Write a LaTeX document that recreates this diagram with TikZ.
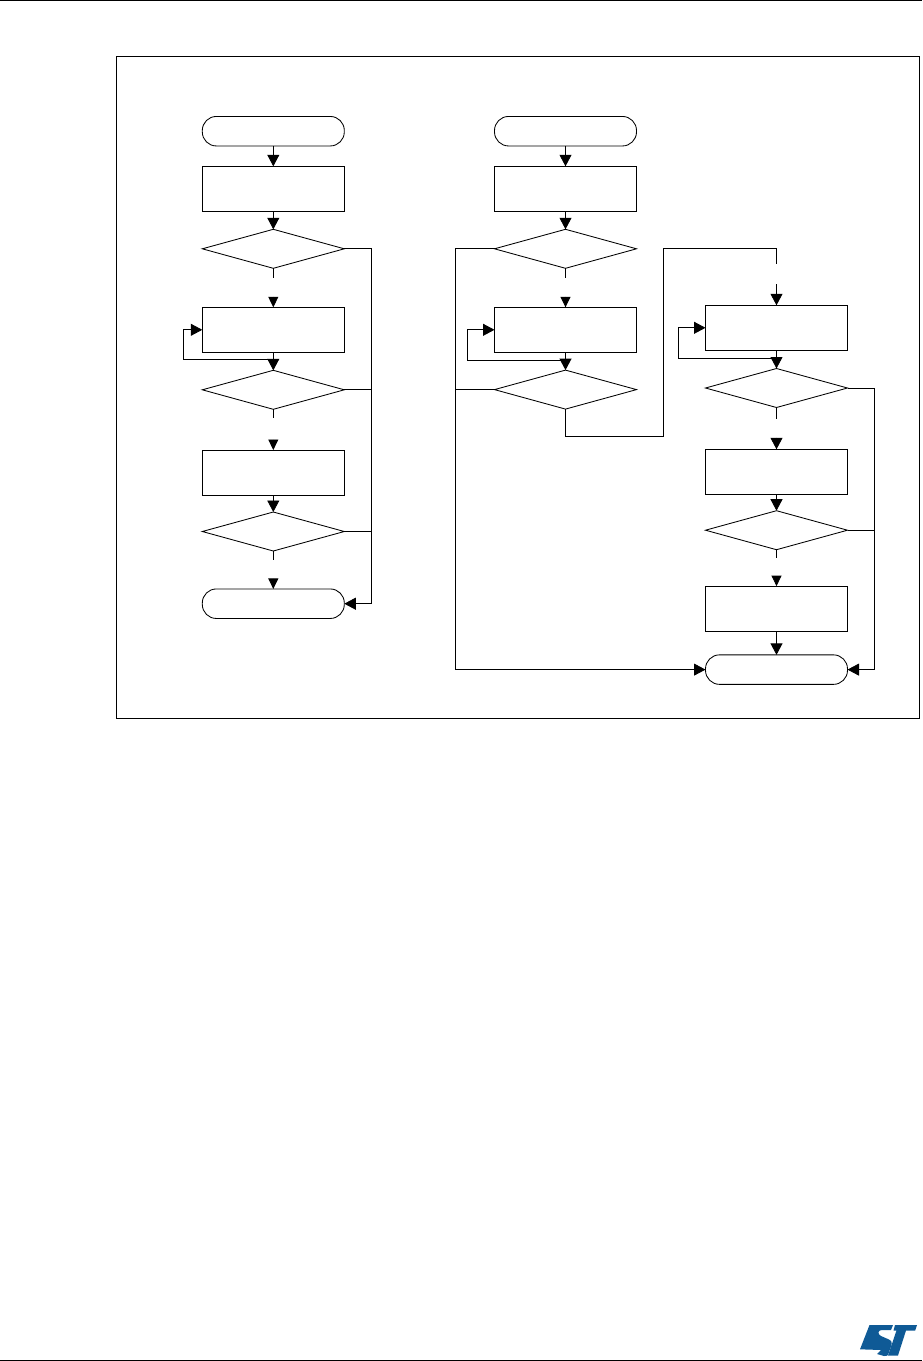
\documentclass[tikz,border=0pt]{standalone}
\usetikzlibrary{shapes.geometric,arrows.meta}
\definecolor{stblue}{HTML}{0F5A96}
\tikzset{
  x=1pt,y=-1pt,
  every node/.style={line width=0.85pt},
  wire/.style={line width=0.85pt,draw=black},
  arr/.style={wire,-{Triangle[length=11.5pt,width=12pt]}},
  smallarr/.style={wire,-{Triangle[length=10.5pt,width=10pt]}},
  procbox/.style={draw=black,rectangle,minimum width=142pt,minimum height=45pt,inner sep=0pt,outer sep=0pt},
  termbox/.style={draw=black,rectangle,rounded corners=14pt,minimum width=142pt,minimum height=29.5pt,inner sep=0pt,outer sep=0pt},
  decbox/.style={draw=black,diamond,aspect=3.64,minimum width=142pt,minimum height=39pt,inner sep=0pt,outer sep=0pt},
}
\begin{document}
\begin{tikzpicture}
\useasboundingbox (0,0) rectangle (922,1361);
% page rules and frame
\coordinate (tl) at (0,0.5); \coordinate (tr) at (922,0.5);
\coordinate (bl) at (0,1360); \coordinate (br) at (922,1360);
\draw[wire] (tl) -- (tr);
\draw[wire] (bl) -- (br);
\draw[wire] (116.5,56.5) rectangle (919,718);
% left column
\node[termbox] (s1) at (273.3,131.2) {};
\node[procbox] (a1) at (273.3,188.8) {};
\node[decbox]  (a2) at (273.3,248.8) {};
\node[procbox] (a3) at (273.3,329.8) {};
\node[decbox]  (a4) at (273.3,389.8) {};
\node[procbox] (a5) at (273.3,472.5) {};
\node[decbox]  (a6) at (273.3,531.5) {};
\node[termbox] (e1) at (273.3,603.7) {};
% middle column
\node[termbox] (s2) at (565.5,131.2) {};
\node[procbox] (b1) at (565.5,188.8) {};
\node[decbox]  (b2) at (565.5,248.8) {};
\node[procbox] (b3) at (565.5,329.8) {};
\node[decbox]  (b4) at (565.5,389.6) {};
% right column
\node[procbox] (c1) at (776.5,327.8) {};
\node[decbox]  (c2) at (776.5,388) {};
\node[procbox] (c3) at (776.5,471.8) {};
\node[decbox]  (c4) at (776.5,530.2) {};
\node[procbox] (c5) at (776.5,608.6) {};
\node[termbox] (e2) at (776.5,669.6) {};
% free ends of the broken connectors
\coordinate (a2s) at (273.3,277.7); \coordinate (a3h) at (273.3,296.5);
\coordinate (a4s) at (273.3,418);   \coordinate (a5h) at (273.3,439.5);
\coordinate (a6s) at (273.3,560);   \coordinate (e1h) at (273.3,578.5);
\coordinate (b2s) at (565.5,277.7); \coordinate (b3h) at (565.5,296.5);
\coordinate (c2s) at (776.5,418.7); \coordinate (c3h) at (776.5,437.5);
\coordinate (c4s) at (776.5,557.7); \coordinate (c5h) at (776.5,577);
\coordinate (jump) at (776.5,264.3); \coordinate (c1t) at (776.5,284.3);
\coordinate (jumpa) at (663.3,436.3); \coordinate (jumpb) at (663.3,248.5); \coordinate (jumpc) at (776.5,248.5);
% left connectors
\draw[arr] (s1.south) -- (a1.north);
\draw[arr] (a1.south) -- (a2.north);
\draw[wire] (a2.south) -- (a2s);
\draw[smallarr] (a3h) -- (a3.north);
\draw[arr] (a3.south) -- (a4.north);
\draw[wire] (a4.south) -- (a4s);
\draw[smallarr] (a5h) -- (a5.north);
\draw[arr] (a5.south) -- (a6.north);
\draw[wire] (a6.south) -- (a6s);
\draw[smallarr] (e1h) -- (e1.north);
\draw[arr] (273.3,359.5) -| (183.3,329.8) -- (a3.west);
\draw[arr] (a2.east) -| (371.3,603.7) -- (e1.east);
\draw[wire] (a4.east) -- (371.3,389.8);
\draw[wire] (a6.east) -- (371.3,531.5);
% middle connectors
\draw[arr] (s2.south) -- (b1.north);
\draw[arr] (b1.south) -- (b2.north);
\draw[wire] (b2.south) -- (b2s);
\draw[smallarr] (b3h) -- (b3.north);
\draw[arr] (b3.south) -- (b4.north);
\draw[arr] (565.5,360.3) -| (467.3,329.8) -- (b3.west);
\draw[arr] (b2.west) -| (455.7,669.6) -- (e2.west);
\draw[wire] (b4.west) -- (455.7,389.6);
\draw[wire] (b4.south) |- (jumpa) -- (jumpb) -- (jumpc) -- (jump);
% right connectors
\draw[arr] (c1t) -- (c1.north);
\draw[arr] (c1.south) -- (c2.north);
\draw[wire] (c2.south) -- (c2s);
\draw[arr] (c3h) -- (c3.north);
\draw[arr] (c3.south) -- (c4.north);
\draw[wire] (c4.south) -- (c4s);
\draw[smallarr] (c5h) -- (c5.north);
\draw[arr] (c5.south) -- (e2.north);
\draw[arr] (776.5,358.3) -| (678.3,327.8) -- (c1.west);
\draw[arr] (c2.east) -| (874.3,669.6) -- (e2.east);
\draw[wire] (c4.east) -- (874.3,530.2);
% logo
\fill[stblue] (869.5,1325) -- (893,1325) -- (891,1330) -- (882,1330) .. controls (878,1330) and (877,1334) .. (881,1336) -- (889,1339.5) .. controls (893,1341) and (892,1345) .. (890,1349) -- (888,1355) .. controls (887,1356) and (886,1356) .. (884,1356) -- (877,1354) -- (881,1350) -- (860,1349.3) -- cycle;
\fill[stblue] (895,1325) -- (917,1325) -- (915.2,1330.5) -- (906,1330.5) -- (898,1355.5) -- (888,1355.5) -- (896.5,1330.5) -- (893.5,1330.5) -- cycle;
\end{tikzpicture}
\end{document}
